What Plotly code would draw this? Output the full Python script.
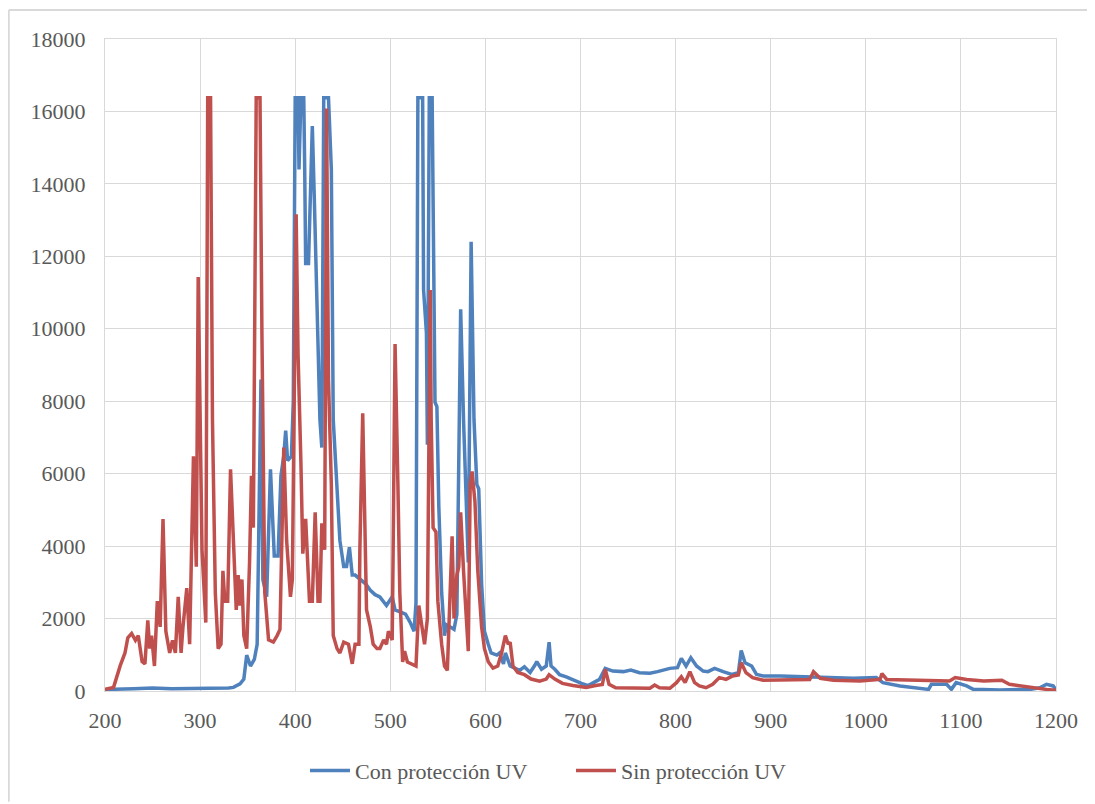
import plotly.graph_objects as go

# ---------------- data ----------------
series_names = ["Con protección UV", "Sin protección UV"]

wl_con = [200, 210, 230, 250, 270, 290, 310, 330, 335, 342, 346, 349, 353, 357, 360, 362, 364,
          366, 370, 374, 378, 382, 385, 388, 390, 392, 396, 398, 400, 403, 404, 406, 409, 410,
          411, 414, 416, 418, 420, 423, 426, 428, 430, 435, 438, 440, 444, 447, 451, 454, 457,
          460, 463, 468, 474, 479, 484, 489, 496, 502, 505, 511, 516, 521, 525, 527, 529, 534,
          535, 538, 539, 541, 544, 547, 549, 551, 554, 557, 559, 563, 567, 570, 574, 577, 580,
          582, 585, 588, 591, 593, 596, 599, 603, 606, 612, 615, 619, 621, 626, 631, 636, 641,
          647, 652, 654, 659, 664, 667, 669, 673, 678, 685, 690, 695, 701, 708, 713, 720, 726,
          734, 745, 753, 762, 773, 781, 794, 802, 806, 811, 816, 822, 829, 834, 841, 850, 859,
          866, 869, 873, 880, 885, 892, 910, 931, 945, 966, 987, 1011, 1018, 1036, 1053, 1066,
          1069, 1085, 1090, 1095, 1106, 1113, 1141, 1155, 1173, 1183, 1190, 1197, 1200]
int_con = [30, 50, 60, 80, 60, 70, 60, 80, 100, 200, 330, 990, 690, 870, 1290, 5000, 8600,
           3080, 2600, 6120, 3730, 3730, 5940, 6500, 7190, 6360, 6480, 8000, 16380, 16380, 14400,
           16380, 16380, 14400, 11800, 11800, 13760, 15600, 13700, 10830, 7490, 6720, 16380,
           16380, 14400, 7490, 5580, 4150, 3440, 3440, 3970, 3200, 3200, 3080, 2960, 2780, 2660,
           2600, 2360, 2600, 2240, 2180, 2120, 1890, 1650, 2420, 16380, 16380, 11070, 9880, 6800,
           16380, 16380, 7970, 7850, 5100, 2720, 1530, 1830, 1770, 1700, 2120, 10540, 7490, 4870,
           3550, 12400, 7490, 5700, 5580, 2960, 1650, 1290, 1050, 990, 1050, 750, 1050, 690, 630,
           570, 670, 510, 710, 810, 600, 690, 1350, 690, 600, 450, 390, 330, 270, 210, 150, 210,
           320, 625, 550, 535, 580, 505, 490, 535, 625, 645, 900, 690, 920, 690, 550, 535, 625,
           535, 460, 505, 1120, 780, 690, 460, 415, 415, 395, 385, 350, 350, 370, 230, 140, 75,
           45, 185, 185, 45, 230, 140, 45, 30, 45, 45, 90, 185, 140, 45]

wl_sin = [200, 209, 216, 221, 224, 228, 232, 235, 239, 242, 245, 247, 249, 252, 255, 258, 261,
          264, 268, 271, 274, 277, 280, 282, 286, 289, 293, 296, 298, 302, 306, 308, 311, 313,
          316, 319, 322, 324, 326, 329, 332, 335, 338, 340, 342, 344, 346, 349, 352, 354, 356,
          359, 363, 365, 368, 372, 377, 381, 384, 388, 391, 395, 397, 401, 403, 406, 408, 411,
          415, 418, 421, 424, 426, 428, 431, 433, 435, 438, 440, 444, 447, 451, 456, 460, 463,
          467, 468, 471, 473, 475, 479, 482, 486, 489, 493, 496, 498, 502, 503, 505, 508, 510,
          513, 515, 518, 522, 527, 530, 533, 536, 539, 542, 543, 545, 548, 550, 554, 557, 560,
          563, 565, 567, 570, 572, 574, 577, 580, 582, 584, 586, 589, 592, 596, 599, 603, 608,
          613, 617, 621, 624, 626, 629, 634, 641, 648, 657, 664, 667, 673, 681, 692, 706, 716,
          723, 726, 730, 737, 755, 773, 778, 783, 794, 801, 806, 810, 815, 820, 825, 832, 839,
          846, 853, 860, 866, 869, 874, 881, 892, 916, 941, 945, 952, 966, 994, 1015, 1017, 1022,
          1053, 1088, 1094, 1106, 1124, 1143, 1151, 1163, 1177, 1190, 1200]
int_sin = [50, 100, 700, 1050, 1470, 1590, 1400, 1530, 810, 750, 1950, 1170, 1530, 690, 2480,
           1770, 4750, 1650, 1050, 1400, 1050, 2600, 1050, 1770, 2840, 1290, 6480, 3430, 11430,
           3900, 1890, 16380, 16380, 7490, 2700, 1170, 1290, 3320, 2480, 2480, 6120, 3900, 2240,
           3200, 2360, 3080, 1530, 1170, 3550, 5940, 4510, 16380, 16380, 9880, 2720, 1410, 1350,
           1530, 1700, 6720, 4150, 2600, 3080, 13160, 9300, 6300, 3790, 4750, 2480, 2480, 4930,
           2480, 2480, 4630, 3900, 16080, 8590, 5700, 1530, 1170, 1050, 1350, 1290, 750, 1290,
           1290, 3900, 7670, 4750, 2240, 1770, 1290, 1170, 1170, 1410, 1290, 1650, 1410, 3900,
           9580, 5700, 2720, 800, 1100, 800, 750, 690, 2360, 1770, 1290, 2000, 11070, 7490, 4510,
           4390, 2480, 1290, 690, 570, 3200, 4270, 2000, 3200, 3430, 4930, 3320, 1770, 1100, 5700,
           6060, 5230, 3320, 1770, 1170, 810, 630, 690, 1050, 1530, 1290, 1350, 690, 510, 450,
           330, 270, 330, 450, 330, 210, 150, 100, 150, 180, 600, 185, 90, 75, 75, 165, 90, 75,
           230, 395, 230, 535, 230, 140, 90, 185, 370, 320, 415, 440, 780, 505, 370, 295, 305,
           320, 535, 350, 295, 275, 320, 480, 320, 295, 275, 370, 320, 275, 295, 185, 140, 75,
           45, 20]

x_ticks = [200, 300, 400, 500, 600, 700, 800, 900, 1000, 1100, 1200]
y_ticks = [0, 2000, 4000, 6000, 8000, 10000, 12000, 14000, 16000, 18000]

# ---------------- figure ----------------
FONT = "Times New Roman, Liberation Serif, Tinos, Times, serif"
TXT = "#595959"
GRID = "#D9D9D9"

fig = go.Figure()
fig.add_trace(go.Scatter(x=wl_con, y=int_con, mode="lines", name=series_names[0],
                         line=dict(color="#4F81BD", width=3.5)))
fig.add_trace(go.Scatter(x=wl_sin, y=int_sin, mode="lines", name=series_names[1],
                         line=dict(color="#C0504D", width=3.5)))

fig.update_layout(
    width=1087, height=796,
    margin=dict(l=97, r=39, t=31, b=111),
    paper_bgcolor="white", plot_bgcolor="white",
    font=dict(family=FONT, size=22, color=TXT),
    showlegend=True,
    legend=dict(orientation="h", x=0.490, xanchor="center", y=-0.1223, yanchor="middle",
                font=dict(family=FONT, size=22, color=TXT), itemwidth=40,
                entrywidth=211, bgcolor="rgba(0,0,0,0)"),
)
fig.update_xaxes(range=[200, 1200], tickvals=x_ticks, showgrid=True, gridcolor=GRID,
                 gridwidth=1, zeroline=False, showline=True, linecolor=GRID, mirror=True,
                 ticks="outside", ticklen=10, tickcolor="rgba(0,0,0,0)",
                 tickfont=dict(family=FONT, size=22, color=TXT))
fig.update_yaxes(range=[0, 18000], tickvals=y_ticks, tickformat="d", showgrid=True,
                 gridcolor=GRID, gridwidth=1, zeroline=False, showline=True, linecolor=GRID,
                 mirror=True, ticks="outside", ticklen=14, tickcolor="rgba(0,0,0,0)",
                 tickfont=dict(family=FONT, size=22, color=TXT))

# outer chart border (only top and left edges visible in the reference)
fig.add_shape(type="line", xref="paper", yref="paper", x0=-0.1012, x1=1.041,
              y0=1.0443, y1=1.0443, line=dict(color=GRID, width=2))
fig.add_shape(type="line", xref="paper", yref="paper", x0=-0.1012, x1=-0.1012,
              y0=1.0443, y1=-0.17, line=dict(color=GRID, width=2))

fig.write_html("out.html")
